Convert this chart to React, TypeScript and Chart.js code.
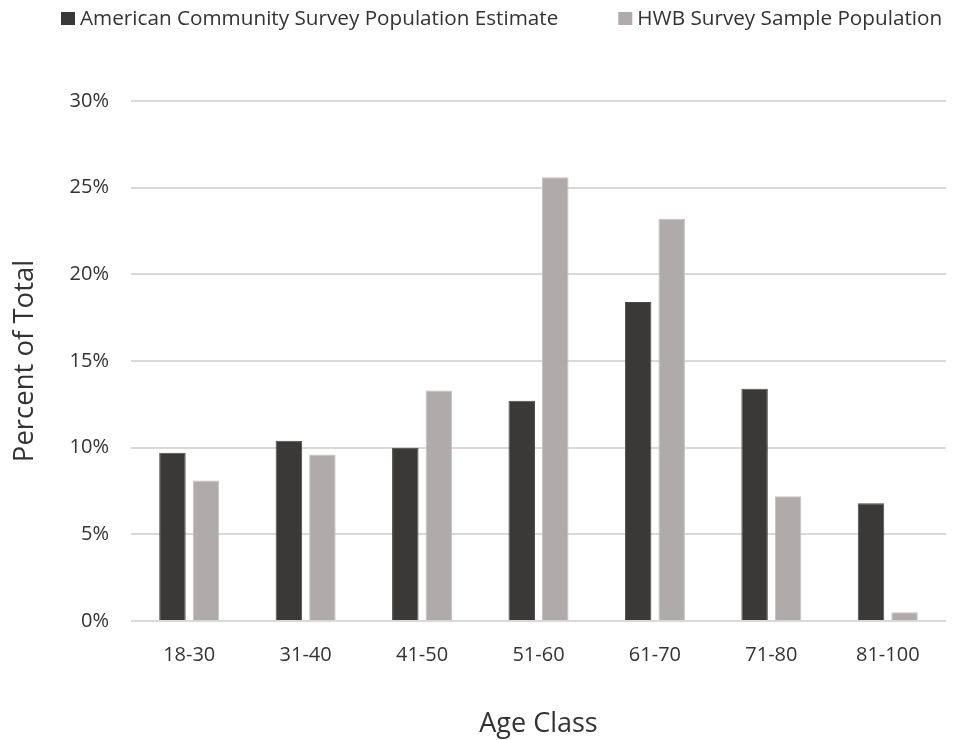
import React, { useEffect, useRef } from "react";
import { Chart, registerables } from "chart.js";

Chart.register(...registerables);

const categories = ["18-30", "31-40", "41-50", "51-60", "61-70", "71-80", "81-100"];
const acsValues = [9.7, 10.4, 10.0, 12.7, 18.4, 13.4, 6.8];
const hwbValues = [8.1, 9.6, 13.3, 25.6, 23.2, 7.2, 0.5];
const seriesNames = ["American Community Survey Population Estimate", "HWB Survey Sample Population"];
const seriesColors = ["#3a3937", "#aeabaa"];
const yTicks = [0, 5, 10, 15, 20, 25, 30];

const FONT = "'Open Sans', 'Segoe UI', sans-serif";
const TEXT = "#333333";
const W = 945;
const H = 732;

export default function App() {
  const ref = useRef<HTMLCanvasElement>(null);
  useEffect(() => {
    document.documentElement.style.overflow = "hidden";
    if (!ref.current) return;
    const topLegend: any = {
      id: "topLegend",
      afterDraw(chart: any) {
        const ctx = chart.ctx;
        ctx.save();
        ctx.font = `20.7px ${FONT}`;
        ctx.textBaseline = "middle";
        ctx.textAlign = "left";
        let x = 53;
        const cy = 10;
        chart.data.datasets.forEach((ds: any) => {
          ctx.fillStyle = ds.backgroundColor;
          ctx.fillRect(x, cy - 6, 14, 13);
          x += 14 + 5;
          ctx.fillStyle = TEXT;
          ctx.fillText(ds.label, x, cy + 1);
          x += ctx.measureText(ds.label).width + 60;
        });
        ctx.restore();
      },
    };
    const chart = new Chart(ref.current, {
      type: "bar",
      data: {
        labels: categories,
        datasets: [
          {
            label: seriesNames[0],
            data: acsValues,
            backgroundColor: seriesColors[0],
            borderColor: "#4a4947",
            borderWidth: 1,
            barPercentage: 0.79,
            categoryPercentage: 0.576,
          },
          {
            label: seriesNames[1],
            data: hwbValues,
            backgroundColor: seriesColors[1],
            borderColor: "#c4c1c0",
            borderWidth: 1,
            barPercentage: 0.79,
            categoryPercentage: 0.576,
          },
        ],
      },
      plugins: [topLegend],
      options: {
        animation: false,
        responsive: false,
        maintainAspectRatio: false,
        layout: { padding: { left: 0, right: 7, top: 93, bottom: 0 } },
        plugins: {
          tooltip: { enabled: false },
          legend: { display: false },
        },
        scales: {
          x: {
            grid: { display: false, drawTicks: false },
            border: { display: false },
            ticks: {
              color: TEXT,
              padding: 22,
              font: { family: FONT, size: 20 },
            },
            title: {
              display: true,
              text: "Age Class",
              color: TEXT,
              padding: { top: 0, bottom: -1 },
              font: { family: FONT, size: 27 },
            },
            afterFit(scale: any) {
              scale.height = H - 613;
            },
          },
          y: {
            min: 0,
            max: 30,
            afterBuildTicks(scale: any) {
              scale.ticks = yTicks.map((v) => ({ value: v }));
            },
            grid: { color: "#d9d9d9", lineWidth: 2, drawTicks: false },
            border: { display: false },
            ticks: {
              color: TEXT,
              padding: 22,
              font: { family: FONT, size: 20 },
              callback: (v: any) => v + "%",
            },
            title: {
              display: true,
              text: "Percent of Total",
              color: TEXT,
              padding: { top: 1, bottom: 0 },
              font: { family: FONT, size: 27.5 },
            },
            afterFit(scale: any) {
              scale.width = 123;
            },
          },
        },
      },
    });
    return () => chart.destroy();
  }, []);
  return (
    <div style={{ width: W, height: H }}>
      <canvas ref={ref} width={W} height={H} style={{ width: W, height: H, display: "block" }} />
    </div>
  );
}
